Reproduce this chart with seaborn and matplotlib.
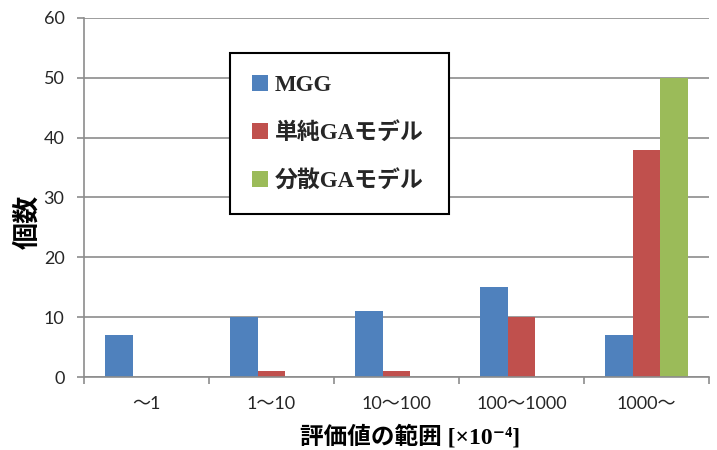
import matplotlib
matplotlib.use("Agg")
import matplotlib.pyplot as plt
import seaborn as sns
import pandas as pd
from matplotlib.ticker import FixedLocator, NullFormatter

categories = ["～1", "1～10", "10～100", "100～1000", "1000～"]
series_names = ["MGG", "単純GAモデル", "分散GAモデル"]
mgg = [7, 10, 11, 15, 7]
simple_ga = [0, 1, 1, 10, 38]
dist_ga = [0, 0, 0, 0, 50]
colors = ["#4F81BD", "#C0504D", "#9BBB59"]

rows = []
for name, vals in zip(series_names, [mgg, simple_ga, dist_ga]):
    for c, v in zip(categories, vals):
        rows.append({"cat": c, "count": v, "model": name})
df = pd.DataFrame(rows)

sns.set_theme(style="white")
plt.rcParams["font.family"] = ["Lato", "Noto Sans CJK JP", "DejaVu Sans"]

fig = plt.figure(figsize=(7.17, 4.5), dpi=100)
ax = fig.add_axes([84/717, 1-377/450, (709-84)/717, (377-18)/450])

sns.barplot(data=df, x="cat", y="count", hue="model", order=categories,
            hue_order=series_names, palette=colors, width=0.67, dodge=True,
            ax=ax, saturation=1, edgecolor="none", linewidth=0)

ax.set_xlim(-0.5, 4.5)
ax.set_ylim(0, 60)
ax.set_yticks(range(0, 61, 10))
ax.yaxis.grid(True, color="#8c8c8c", linewidth=1.2)
ax.set_axisbelow(True)

for s in ["top", "right"]:
    ax.spines[s].set_visible(False)
for s in ["left", "bottom"]:
    ax.spines[s].set_color("#8c8c8c")
    ax.spines[s].set_linewidth(1.2)

ax.xaxis.set_major_locator(FixedLocator([-0.5, 0.5, 1.5, 2.5, 3.5, 4.5]))
ax.xaxis.set_major_formatter(NullFormatter())
ax.xaxis.set_minor_locator(FixedLocator(range(len(categories))))
ax.set_xticklabels(categories, minor=True)
ax.tick_params(axis="x", which="major", length=5, width=1.2, color="#8c8c8c", bottom=True)
ax.tick_params(axis="x", which="minor", length=0, pad=14, labelsize=13, labelcolor="#262626")
ax.tick_params(axis="y", which="major", length=5, width=1.2, color="#8c8c8c", left=True,
               pad=9, labelsize=13, labelcolor="#262626")

ax.set_ylabel("個数", fontsize=19.5, fontweight="bold",
              family=["Noto Sans CJK JP", "DejaVu Sans"], color="black")
ax.yaxis.label.set_va("center")
ax.yaxis.set_label_coords(-0.091, 0.432)

ax.set_xlabel("評価値の範囲 [×10⁻⁴]", fontsize=17, fontweight="bold",
              family=["Liberation Serif", "Noto Sans CJK JP", "DejaVu Sans"], color="black")
ax.xaxis.label.set_va("center")
ax.xaxis.set_label_coords(0.5216, -0.167)

leg = ax.legend(loc="upper left", bbox_to_anchor=(0.234, 0.465, 0.35, 0.4375),
                mode="expand", fancybox=False, framealpha=1, edgecolor="black",
                prop={"family": ["Liberation Serif", "Noto Sans CJK JP", "DejaVu Sans"],
                      "weight": "bold", "size": 16.5},
                handlelength=0.7, handleheight=0.7, handletextpad=0.3,
                labelspacing=1.15, borderpad=0.95, borderaxespad=0, title=None)
leg.get_frame().set_linewidth(1.5)

fig.savefig("out.png", dpi=100)
